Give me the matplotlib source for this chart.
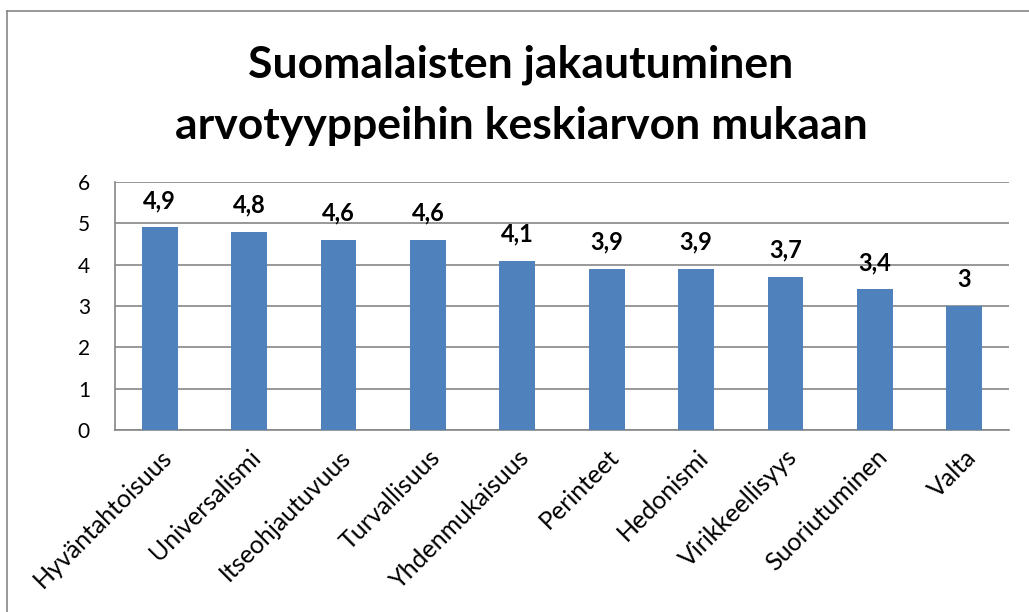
import matplotlib
matplotlib.use("Agg")
from matplotlib import pyplot as plt
from matplotlib.lines import Line2D

categories = ["Hyväntahtoisuus", "Universalismi", "Itseohjautuvuus", "Turvallisuus",
              "Yhdenmukaisuus", "Perinteet", "Hedonismi", "Virikkeellisyys",
              "Suoriutuminen", "Valta"]
values = [4.9, 4.8, 4.6, 4.6, 4.1, 3.9, 3.9, 3.7, 3.4, 3.0]
yticks = [0, 1, 2, 3, 4, 5, 6]

plt.rcParams['font.family'] = ['Lato', 'DejaVu Sans']

fig = plt.figure(figsize=(10.29, 6.12), dpi=100)
ax = fig.add_axes([115 / 1029, 1 - 430 / 612, 894 / 1029, 248 / 612])

x = range(len(categories))
ax.bar(x, values, width=0.4, color="#4F81BD", zorder=3)
for i, v in zip(x, values):
    label = f"{v:g}".replace(".", ",")
    ax.annotate(label, (i, v), xytext=(0, 11), textcoords="offset points",
                ha="center", va="bottom", fontsize=17, fontweight="bold")

ax.set_xlim(-0.5, len(categories) - 0.5)
ax.set_ylim(0, 6)
ax.set_yticks(yticks)
ax.set_yticklabels([str(t) for t in yticks], fontsize=15)
ax.yaxis.grid(True, color="#868686", linewidth=1.2, zorder=0)
ax.set_xticks(list(x))
ax.set_xticklabels(categories, rotation=45, ha="right", rotation_mode="anchor",
                   fontsize=18)
ax.tick_params(axis="both", length=0)
ax.tick_params(axis="y", pad=18)
ax.tick_params(axis="x", pad=11)
for side in ["top", "right"]:
    ax.spines[side].set_visible(False)
for side in ["left", "bottom"]:
    ax.spines[side].set_color("#868686")
    ax.spines[side].set_linewidth(1.2)

fig.text(521 / 1029, 1 - 95 / 612, "Suomalaisten jakautuminen\narvotyyppeihin keskiarvon mukaan",
         ha="center", va="center", fontsize=32, fontweight="bold", linespacing=1.65)

# chart frame (cut off at the right and bottom edges)
fx, fy = 7 / 1029, 1 - 11 / 612
fig.add_artist(Line2D([fx, fx], [0, fy], color="#868686", linewidth=1.2))
fig.add_artist(Line2D([fx, 1], [fy, fy], color="#868686", linewidth=1.2))

fig.savefig("out.png", dpi=100)
